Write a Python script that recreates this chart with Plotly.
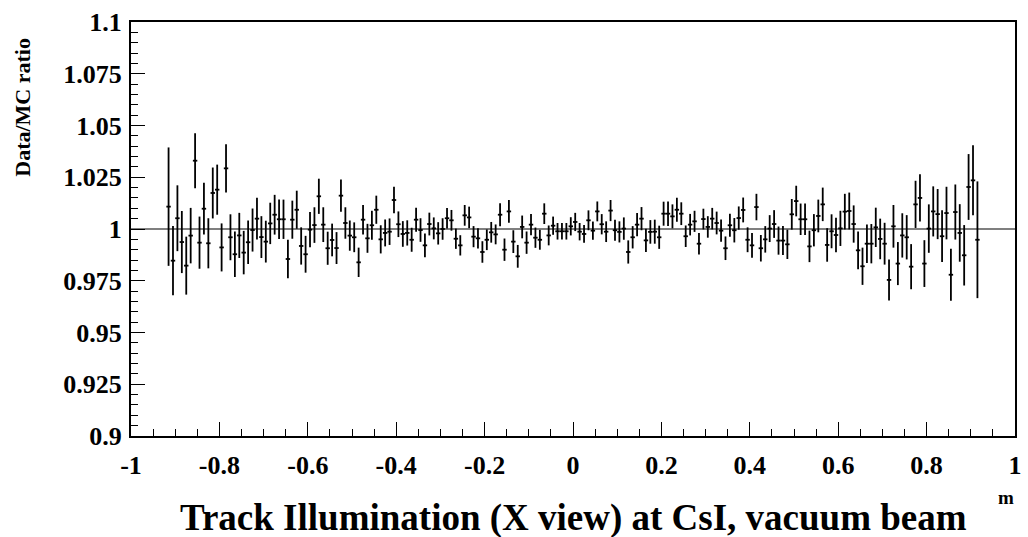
import numpy as np
import plotly.graph_objects as go

# Bin structure: 184 bins of width 0.01 m from -0.92 to 0.92
bin_width = 0.01
bin_low_edge = -0.92
n_bins = 184
x_centers = [round(bin_low_edge + bin_width * (i + 0.5), 4) for i in range(n_bins)]

# Data/MC ratio deviation from 1, in percent
ratio_dev_pct = [
    1.08, -1.53, 0.52, -0.63, -1.77, -0.32, 3.30, -0.66, 0.98, -0.69,
    1.74, 1.90, -0.89, 2.93, -0.40, -1.22, -0.31, -1.14, -0.64, -0.05,
    0.50, -0.39, -0.61, 0.27, 0.69, 0.47, 0.47, -1.45, 0.45, 0.93,
    -0.82, -1.22, -0.03, 0.19, 1.58, 0.21, -0.93, -0.53, -0.92, 1.61,
    0.29, -0.32, -0.40, -1.61, 0.45, -0.45, 0.18, 0.93, -0.50, -0.19,
    -0.13, 1.40, 0.23, -0.24, -0.19, -0.52, 0.45, -0.05, -0.79, 0.24,
    0.03, -0.21, 0.00, 0.52, 0.42, -0.47, -0.79, 0.66, 0.56, -0.37,
    -0.45, -1.11, -0.52, -0.16, -0.26, 0.69, -1.00, 0.85, -0.61, -1.32,
    0.10, -0.66, 0.21, -0.42, -0.52, 0.74, -0.31, 0.16, -0.11, -0.11,
    -0.11, 0.13, 0.34, -0.13, -0.24, 0.42, -0.08, 0.85, 0.23, -0.13,
    0.89, -0.06, -0.14, 0.02, -1.11, -0.40, 0.21, 0.50, -0.55, -0.14,
    -0.13, -0.40, 0.74, 0.74, 0.61, 0.93, 0.74, -0.35, 0.21, 0.37,
    -0.71, 0.48, 0.10, 0.50, 0.29, -0.08, -0.93, 0.18, -0.06, 0.53,
    0.92, -0.52, -0.79, 1.06, -0.93, -0.50, 0.02, 0.24, -0.56, -0.56,
    -0.74, 0.71, 1.35, 0.47, 0.47, -0.84, -0.06, 0.63, 1.19, -0.77,
    -0.11, -0.29, 0.03, 0.84, 0.87, 0.24, -1.03, -1.80, -0.71, -0.71,
    0.08, -0.48, -0.71, -2.46, 0.13, -1.67, -0.31, -0.40, -1.82, 1.19,
    1.50, -1.67, 0.02, 0.85, 0.72, -0.35, 0.77, -2.21, 0.82, -0.19,
    -1.27, 2.03, 2.35, -0.52,
]

# Statistical error of the ratio, in percent
ratio_err_pct = [
    2.86, 1.67, 1.59, 1.50, 1.40, 1.34, 1.33, 1.26, 1.25, 1.21,
    1.23, 1.21, 1.16, 1.17, 1.11, 1.10, 1.09, 1.05, 1.05, 1.04,
    1.01, 1.01, 1.01, 1.00, 0.96, 0.95, 0.95, 0.93, 0.92, 0.92,
    0.90, 0.89, 0.85, 0.86, 0.85, 0.84, 0.80, 0.79, 0.77, 0.78,
    0.76, 0.73, 0.72, 0.71, 0.71, 0.70, 0.70, 0.68, 0.68, 0.65,
    0.64, 0.64, 0.62, 0.62, 0.61, 0.58, 0.58, 0.57, 0.57, 0.55,
    0.53, 0.54, 0.52, 0.50, 0.50, 0.49, 0.49, 0.50, 0.52, 0.51,
    0.49, 0.52, 0.50, 0.50, 0.48, 0.56, 0.54, 0.55, 0.55, 0.55,
    0.55, 0.54, 0.51, 0.49, 0.48, 0.50, 0.48, 0.44, 0.40, 0.40,
    0.40, 0.44, 0.44, 0.42, 0.43, 0.48, 0.44, 0.48, 0.49, 0.50,
    0.51, 0.51, 0.51, 0.54, 0.56, 0.54, 0.56, 0.56, 0.56, 0.57,
    0.58, 0.56, 0.58, 0.59, 0.58, 0.58, 0.55, 0.52, 0.52, 0.51,
    0.52, 0.50, 0.52, 0.52, 0.55, 0.54, 0.57, 0.56, 0.59, 0.56,
    0.60, 0.60, 0.60, 0.64, 0.64, 0.64, 0.65, 0.67, 0.68, 0.70,
    0.71, 0.74, 0.74, 0.76, 0.76, 0.76, 0.78, 0.79, 0.81, 0.81,
    0.82, 0.83, 0.85, 0.86, 0.89, 0.90, 0.91, 0.90, 0.93, 0.95,
    0.95, 0.98, 1.01, 0.99, 1.03, 1.04, 1.07, 1.07, 1.09, 1.14,
    1.14, 1.13, 1.17, 1.21, 1.21, 1.25, 1.27, 1.26, 1.33, 1.39,
    1.46, 1.59, 1.69, 2.82,
]

assert len(ratio_dev_pct) == n_bins and len(ratio_err_pct) == n_bins

ratio = [1 + v / 100 for v in ratio_dev_pct]
ratio_err = [e / 100 for e in ratio_err_pct]

x_tickvals = [-1, -0.8, -0.6, -0.4, -0.2, 0, 0.2, 0.4, 0.6, 0.8, 1]
x_ticktext = ["-1", "-0.8", "-0.6", "-0.4", "-0.2", "0", "0.2", "0.4", "0.6", "0.8", "1"]
y_tickvals = [0.9, 0.925, 0.95, 0.975, 1.0, 1.025, 1.05, 1.075, 1.1]
y_ticktext = ["0.9", "0.925", "0.95", "0.975", "1", "1.025", "1.05", "1.075", "1.1"]

FONT = "Liberation Serif"

fig = go.Figure()
fig.add_trace(go.Scatter(
    x=x_centers, y=ratio, mode="markers",
    marker=dict(size=0.1, color="black"),
    error_y=dict(type="data", array=ratio_err, visible=True,
                 color="black", thickness=1.8, width=0),
    error_x=dict(type="constant", value=bin_width / 2, visible=True,
                 color="black", thickness=1.8, width=0),
    showlegend=False, hoverinfo="skip",
))

fig.add_shape(type="line", xref="x", yref="y", x0=-1, x1=1, y0=1, y1=1,
              line=dict(color="black", width=1.2))

fig.update_layout(
    width=1028, height=537,
    margin=dict(l=131, r=6, t=22, b=101),
    paper_bgcolor="white", plot_bgcolor="white",
    font=dict(family=FONT, color="black"),
    xaxis=dict(
        range=[-1, 1], showgrid=False, zeroline=False,
        showline=True, linecolor="black", linewidth=2, mirror=True,
        ticks="inside", ticklen=14, tickwidth=1.2, tickcolor="black",
        tickvals=x_tickvals, ticktext=x_ticktext,
        tickfont=dict(family=FONT, size=26, color="black", weight="bold"),
        ticklabelstandoff=5,
        minor=dict(ticks="inside", ticklen=7, tickwidth=1.2, tickcolor="black",
                   dtick=0.05, tick0=0, showgrid=False),
    ),
    yaxis=dict(
        range=[0.9, 1.1], showgrid=False, zeroline=False,
        showline=True, linecolor="black", linewidth=2, mirror=True,
        ticks="inside", ticklen=14, tickwidth=1.2, tickcolor="black",
        tickvals=y_tickvals, ticktext=y_ticktext,
        tickfont=dict(family=FONT, size=26, color="black", weight="bold"),
        ticklabelstandoff=2,
        minor=dict(ticks="inside", ticklen=7, tickwidth=1.2, tickcolor="black",
                   dtick=0.005, tick0=0.9, showgrid=False),
    ),
    annotations=[
        dict(text="Track Illumination (X view) at CsI, vacuum beam",
             xref="paper", yref="paper", x=0.5, y=0, yshift=-82,
             xanchor="center", yanchor="middle", showarrow=False,
             font=dict(family=FONT, size=37, color="black", weight="bold")),
        dict(text="m", xref="paper", yref="paper", x=0.99, y=0, yshift=-61,
             xanchor="center", yanchor="middle", showarrow=False,
             font=dict(family=FONT, size=19, color="black", weight="bold")),
        dict(text="Data/MC ratio", xref="paper", yref="paper",
             x=-0.1223, y=0.795, xanchor="center", yanchor="middle",
             textangle=-90, showarrow=False,
             font=dict(family=FONT, size=22, color="black", weight="bold")),
    ],
)

fig.write_html("out.html")
